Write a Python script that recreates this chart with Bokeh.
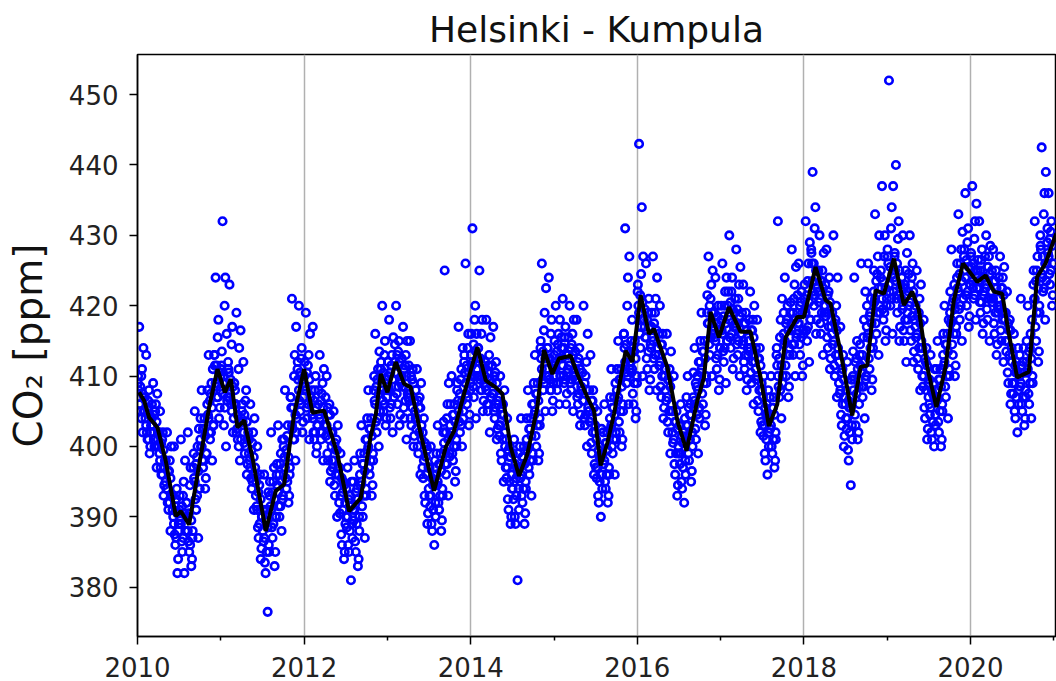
from bokeh.plotting import figure
from bokeh.models import FixedTicker, Range1d, PrintfTickFormatter
from bokeh.embed import file_html
from bokeh.resources import INLINE

# ---- data (approximate daily samples per month) ----
years = list(range(2010, 2021))

# spread of the daily values in each month (10 per month)
co2_2010 = [[409,408,417,406,405,410,411,402,414,407],[405,404,413,402,401,406.5,408,399,400,403],
            [404,403,409,401,400,405,406,397,407.5,402],[400,399,405,397,396,401,402,393,394.5,398],
            [395,394,402,392,391,396.5,398,388,400,393],[391,390,400,387.5,386,392.5,394,382,384,389],
            [391,389.5,401,386.5,385,393,395,382,398,388],[392,390,402,386.5,385,394.5,397,383,384,388],
            [397,395.5,405,392.5,391,398.5,400,387,402.5,394],[401,400,408,398,397,402.5,404,394,395.5,399],
            [406,404.5,413,402,401,407.5,409,398,411,403],[413,411.5,424,408.5,407,415.5,418,404,405.5,410]]
co2_2011 = [[411,413.5,432,409,403,420,424,400,416,407],[412,410.5,423,407.5,406,414.5,417,402,404,409],
            [408,406,419,402.5,401,411,414,398,416.5,404],[405,403.5,412,400.5,399,406.5,408,396,397.5,402],
            [399,398,406,395.5,394,400.5,402,391,404,397],[393,391.5,400,388.5,387,394.5,396,384,385.5,390],
            [388,386.5,396,383.5,382,389.5,391,376.5,393.5,385],[393,391.5,402,388.5,387,395,397,383,385,390],
            [396,394.5,403,391.5,390,397.5,399,388,401,393],[400,398.5,408,395.5,394,401.5,403,392,393,397],
            [407,405.5,421,402.5,401,410,413,398,417,404],[411,409.5,420,406.5,405,412.5,414,402,403.5,408]]
co2_2012 = [[410,408.5,419,405.5,404,411.5,413,401,416,407],[406,404.5,417,402,401,408,410,399,400,403],
            [406,404.5,413,402,401,407.5,409,398,411,403],[403,401.5,410,399,398,404.5,406,395,396.5,400],
            [398,397,405,394.5,393,399.5,401,390,403,396],[392,390.5,399,387.5,386,393.5,395,384,385,389],
            [390,388.5,397,386,385,391.5,393,381,395,387],[391,389.5,398,386.5,385,392.5,394,383,384,388],
            [396,394.5,403,391.5,390,397.5,399,387,401,393],[401,399.5,408,397,396,402.5,404,393,394.5,398],
            [408,406.5,416,403.5,402,409.5,411,400,413.5,405],[411,409.5,420,406.5,405,413,415,403,404,408]]
co2_2013 = [[410,408.5,418,405.5,404,411.5,413,402,415.5,407],[412,410.5,420,407.5,406,413.5,415,403,404.5,409],
            [410,408.5,417,405.5,404,411.5,413,401,415,407],[408,406.5,415,404,403,409.5,411,400,401.5,405],
            [404,402.5,411,400,399,405.5,407,396,409,401],[397,395.5,404,393,392,398.5,400,389,390.5,394],
            [393,391.5,400,389,388,394.5,396,386,398,390],[396,394.5,403,392,391,397.5,399,388,389.5,393],
            [402,400.5,425,397.5,396,404,406,393,409,399],[403,401.5,410,399,398,404.5,406,395,396.5,400],
            [408,406.5,417,403.5,402,409.5,411,400,414,405],[412,410.5,426,407.5,406,414,416,403,404.5,409]]
co2_2014 = [[413,411.5,431,408.5,407,418,420,404,416,410],[414,412.5,425,409.5,408,416,418,405,406.5,411],
            [410,408.5,418,406,405,411.5,413,402,415.5,407],[409,407.5,417,405,404,410.5,412,401,402.5,406],
            [403,401.5,410,399,398,404.5,406,395,408,400],[397,395.5,404,392.5,391,398.5,400,389,390,394],
            [394,392.5,401,390,389,395.5,397,381,399,391],[397,395.5,404,393,392,398.5,400,389,390.5,394],
            [401,399.5,408,397,396,402.5,404,393,406,398],[406,404.5,413,401.5,400,407.5,409,398,399,403],
            [414,412.5,426,409.5,408,416.5,419,405,422.5,411],[414,412.5,424,409.5,408,416,418,405,406.5,411]]
co2_2015 = [[413,411.5,420,409,408,414.5,416,406,418,410],[414,412.5,421,410,409,415.5,417,406,407.5,411],
            [413,411.5,420,409,408,414.5,416,405,418,410],[411,409.5,418,407,406,412.5,414,403,404.5,408],
            [408,406.5,420,404,403,410,412,400,416,405],[405,403.5,413,400.5,399,406.5,408,396,397.5,402],
            [397,395.5,405,393,392,398.5,400,390,402.5,394],[399,397.5,406,395,394,400.5,402,392,393,396],
            [404,402.5,411,400,399,405.5,407,396,409,401],[408,406.5,415,403.5,402,409.5,411,400,401,405],
            [416,414,431,410.5,409,420,424,406,427,412],[412,410.5,418,407.5,406,413.5,415,404,405,409]]
co2_2016 = [[422,420,443,416,414,424.5,434,410,427,418],[417,415.5,426,412.5,411,419,421,408,409.5,414],
            [417,415.5,427,412.5,411,419,421,408,424,414],[413,411.5,420,408.5,407,414.5,416,404,405.5,410],
            [408,406.5,416,403.5,402,409.5,411,399,413.5,405],[402,400.5,410,397.5,396,403.5,405,393,394.5,399],
            [399,397.5,406,395,394,400.5,402,392,404,396],[403,401.5,410,399,398,404.5,406,395,396.5,400],
            [407,405.5,414,402.5,401,408.5,410,399,412,404],[412,410.5,419,407.5,406,413.5,415,403,404.5,409],
            [419,417.5,427,414.5,413,421,423,410,425,416],[417,415.5,424,412.5,411,418.5,420,408,409.5,414]]
co2_2017 = [[418,416.5,426,413.5,412,420,422,409,424,415],[420,418.5,430,415.5,414,422,424,411,412.5,417],
            [419,417.5,428,414.5,413,421,423,410,425.5,416],[416,414.5,423,412,411,417.5,419,408,409.5,413],
            [415,413.5,422,410.5,409,416.5,418,406,420,412],[411,409.5,418,406.5,405,412.5,414,402,403.5,408],
            [403,401.5,410,399,398,404.5,406,396,408,400],[404,402.5,410,400,399,405.5,407,397,398,401],
            [413,411.5,432,408.5,407,415.5,418,404,421,410],[416,414.5,424,411.5,410,418,420,407,408.5,413],
            [419,417.5,428,414.5,413,421,423,410,425.5,416],[419,417.5,426,414.5,413,420.5,422,410,411.5,416]]
co2_2018 = [[421,419.5,432,416.5,415,423.5,426,412,429,418],[428,426,439,422,420,431,434,416,418,424],
            [422,420.5,430,417.5,416,423.5,425,413,427.5,419],[420,418.5,428,415.5,414,422,424,411,412.5,417],
            [416,414.5,430,411.5,410,418,420,407,424,413],[409,407.5,417,404.5,403,411,413,400,401.5,406],
            [404,402.5,412,399.5,398,405.5,407,394.5,409.5,401],[410,408,424,404.5,403,412.5,415,401,402,406],
            [413,411.5,426,408.5,407,415.5,418,404,422,410],[417,415.5,426,412.5,411,419,421,408,409.5,414],
            [422,420.5,433,417.5,416,424.5,427,413,430,419],[424,422.5,437,419.5,418,427,430,415,416.5,421]]
co2_2019 = [[428,426,452,422,420,431,434,416,437,424],[427,425,440,421,419,429.5,432,415,417,423],
            [421,419.5,430,416.5,415,423,425,412,427.5,418],[422,420,430,416.5,415,424,426,412,413.5,418],
            [417,415.5,425,412.5,411,419,421,408,423,414],[410,408.5,418,405.5,404,412,414,401,402.5,407],
            [406,404.5,413,402,401,407.5,409,400,411,403],[408,406.5,415,403.5,402,409.5,411,400,401,405],
            [413,411.5,420,408.5,407,414.5,416,404,418,410],[419,417.5,428,414.5,413,421,423,410,411.5,416],
            [424,422.5,433,419.5,418,426,428,415,430.5,421],[427,425,436,421.5,420,429,431,417,418.5,423]]
co2_2020 = [[427,425.5,437,422.5,421,429.5,432,418,434.5,424],[425,423.5,432,420.5,419,426.5,428,416,417.5,422],
            [424,422.5,430,419.5,418,425.5,427,415,428.5,421],[422,420.5,428,417.5,416,423.5,425,413,414.5,419],
            [421,419.5,427,416.5,415,422.5,424,412,425.5,418],[415,413.5,422,410.5,409,416.5,418,406,407.5,412],
            [409,407.5,416,405,404,410.5,412,402,414,406],[410,408.5,421,406,405,412,414,403,404,407],
            [412,410.5,420,407.5,406,414,416,404,418,409],[423,421,432,417,415,425,427,412,413.5,419],
            [430,428,442.5,424,422,433,436,418,439,426],[429,427.5,436,424.5,423,430.5,432,420,421.5,426]]

# dense core of the daily values near the running mean (6 per month)
core_2010 = [[410,406,408.5,404,407.5,405],[407,403,405.5,401,404.5,402],[406,402,404.5,400,403.5,401],
             [402,398,400.5,396,399.5,397],[398,394,396.5,392,395.5,393],[393,389,391.5,387,390.5,388],
             [393,389,391.5,387,390.5,388],[392,388,390.5,386,389.5,387],[399,395,397.5,393,396.5,394],
             [404,400,402.5,398,401.5,399],[408,404,406.5,402,405.5,403],[413,409,411.5,407,410.5,408]]
core_2011 = [[411.5,407.5,410,405.5,409,406.5],[411,407,409.5,405,408.5,406],[406,402,404.5,400,403.5,401],
             [406,402,404.5,400,403.5,401],[401,397,399.5,395,398.5,396],[395,391,393.5,389,392.5,390],
             [391,387,389.5,385,388.5,386],[395,391,393.5,389,392.5,390],[397.5,393.5,396,391.5,395,392.5],
             [401,397,399.5,395,398.5,396],[407,403,405.5,401,404.5,402],[412,408,410.5,406,409.5,407]]
core_2012 = [[412,408,410.5,406,409.5,407],[408,404,406.5,402,405.5,403],[408,404,406.5,402,405.5,403],
             [407,403,405.5,401,404.5,402],[402,398,400.5,396,399.5,397],[397,393,395.5,391,394.5,392],
             [394,390,392.5,388,391.5,389],[395,391,393.5,389,392.5,390],[399,395,397.5,393,396.5,394],
             [404,400,402.5,398,401.5,399],[410,406,408.5,404,407.5,405],[412,408,410.5,406,409.5,407]]
core_2013 = [[412,408,410.5,406,409.5,407],[414.5,410.5,413,408.5,412,409.5],[412.5,408.5,411,406.5,410,407.5],
             [411.5,407.5,410,405.5,409,406.5],[408,404,406.5,402,405.5,403],[402,398,400.5,396,399.5,397],
             [397,393,395.5,391,394.5,392],[399,395,397.5,393,396.5,394],[403.5,399.5,402,397.5,401,398.5],
             [406,402,404.5,400,403.5,401],[409,405,407.5,403,406.5,404],[413,409,411.5,407,410.5,408]]
core_2014 = [[416,412,414.5,410,413.5,411],[414,410,412.5,408,411.5,409],[412,408,410.5,406,409.5,407],
             [411.5,407.5,410,405.5,409,406.5],[407,403,405.5,401,404.5,402],[401,397,399.5,395,398.5,396],
             [399,395,397.5,393,396.5,394],[400,396,398.5,394,397.5,395],[404,400,402.5,398,401.5,399],
             [409,405,407.5,403,406.5,404],[415,411,413.5,409,412.5,410],[414,410,412.5,408,411.5,409]]
core_2015 = [[415,411,413.5,409,412.5,410],[415.5,411.5,414,409.5,413,410.5],[415.5,411.5,414,409.5,413,410.5],
             [413.5,409.5,412,407.5,411,408.5],[410.5,406.5,409,404.5,408,405.5],[408,404,406.5,402,405.5,403],
             [401,397,399.5,395,398.5,396],[402,398,400.5,396,399.5,397],[407,403,405.5,401,404.5,402],
             [411,407,409.5,405,408.5,406],[416,412,414.5,410,413.5,411],[415,411,413.5,409,412.5,410]]
core_2016 = [[423,419,421.5,417,420.5,418],[419.5,415.5,418,413.5,417,414.5],[419,415,417.5,413,416.5,414],
             [416,412,414.5,410,413.5,411],[411,407,409.5,405,408.5,406],[405,401,403.5,399,402.5,400],
             [403,399,401.5,397,400.5,398],[407,403,405.5,401,404.5,402],[410.5,406.5,409,404.5,408,405.5],
             [415,411,413.5,409,412.5,410],[421.5,417.5,420,415.5,419,416.5],[419,415,417.5,413,416.5,414]]
core_2017 = [[420,416,418.5,414,417.5,415],[422,418,420.5,416,419.5,417],[421,417,419.5,415,418.5,416],
             [419,415,417.5,413,416.5,414],[418,414,416.5,412,415.5,413],[414,410,412.5,408,411.5,409],
             [407,403,405.5,401,404.5,402],[407,403,405.5,401,404.5,402],[414,410,412.5,408,411.5,409],
             [419,415,417.5,413,416.5,414],[420.5,416.5,419,414.5,418,415.5],[421.5,417.5,420,415.5,419,416.5]]
core_2018 = [[423,419,421.5,417,420.5,418],[427.5,423.5,426,421.5,425,422.5],[425,421,423.5,419,422.5,420],
             [423,419,421.5,417,420.5,418],[419,415,417.5,413,416.5,414],[412,408,410.5,406,409.5,407],
             [408,404,406.5,402,405.5,403],[413.5,409.5,412,407.5,411,408.5],[414.5,410.5,413,408.5,412,409.5],
             [420,416,418.5,414,417.5,415],[425,421,423.5,419,422.5,420],[425,421,423.5,419,422.5,420]]
core_2019 = [[427,423,425.5,421,424.5,422],[427.5,423.5,426,421.5,425,422.5],[424,420,422.5,418,421.5,419],
             [424.5,420.5,423,418.5,422,419.5],[420,416,418.5,414,417.5,415],[414,410,412.5,408,411.5,409],
             [409.5,405.5,408,403.5,407,404.5],[411,407,409.5,405,408.5,406],[416,412,414.5,410,413.5,411],
             [422,418,420.5,416,419.5,417],[426,422,424.5,420,423.5,421],[428,424,426.5,422,425.5,423]]
core_2020 = [[427.5,423.5,426,421.5,425,422.5],[426.5,422.5,425,420.5,424,421.5],[427,423,425.5,421,424.5,422],
             [425,421,423.5,419,422.5,420],[424,420,422.5,418,421.5,419],[419,415,417.5,413,416.5,414],
             [413,409,411.5,407,410.5,408],[413,409,411.5,407,410.5,408],[415,411,413.5,409,412.5,410],
             [425,421,423.5,419,422.5,420],[428.5,424.5,427,422.5,426,423.5],[431,427,429.5,425,428.5,426]]

# running mean (black curve)
smooth_year = [2010.02, 2010.08, 2010.14, 2010.24, 2010.34, 2010.46, 2010.52, 2010.62, 2010.72, 2010.86,
               2010.96, 2011.05, 2011.12, 2011.20, 2011.28, 2011.38, 2011.54, 2011.66, 2011.76, 2011.88,
               2012.00, 2012.10, 2012.24, 2012.40, 2012.54, 2012.68, 2012.80, 2012.86, 2012.92, 2013.00,
               2013.10, 2013.20, 2013.28, 2013.40, 2013.56, 2013.70, 2013.80, 2013.92, 2014.08, 2014.18,
               2014.30, 2014.38, 2014.48, 2014.58, 2014.68, 2014.80, 2014.88, 2014.98, 2015.06, 2015.20,
               2015.28, 2015.40, 2015.48, 2015.56, 2015.64, 2015.72, 2015.86, 2015.94, 2016.04, 2016.14,
               2016.20, 2016.36, 2016.48, 2016.59, 2016.72, 2016.80, 2016.88, 2016.98, 2017.10, 2017.24,
               2017.36, 2017.48, 2017.58, 2017.68, 2017.78, 2017.92, 2018.00, 2018.14, 2018.26, 2018.32,
               2018.44, 2018.58, 2018.68, 2018.76, 2018.86, 2018.96, 2019.08, 2019.20, 2019.30, 2019.38,
               2019.48, 2019.59, 2019.70, 2019.80, 2019.91, 2020.08, 2020.18, 2020.28, 2020.38, 2020.46,
               2020.56, 2020.70, 2020.80, 2020.90, 2021.03]
smooth_co2 = [407.7, 406.5, 404.1, 402.7, 397.9, 390.1, 390.8, 388.9, 396.0, 405.6,
              411.0, 407.7, 409.6, 402.7, 403.7, 398.4, 388.0, 393.7, 394.6, 404.6,
              411.0, 404.8, 405.1, 398.9, 390.8, 392.7, 401.5, 404.5, 410.3, 407.7,
              412.0, 408.9, 408.4, 401.8, 393.7, 399.9, 402.2, 407.5, 414.1, 409.4,
              408.4, 407.5, 399.9, 395.8, 398.9, 405.6, 413.7, 410.3, 412.5, 412.9,
              410.3, 407.0, 405.1, 397.3, 400.5, 404.6, 413.6, 412.0, 421.5, 416.0,
              416.7, 411.3, 403.7, 399.4, 406.5, 409.8, 419.1, 415.5, 419.8, 416.3,
              416.3, 409.8, 402.9, 406.0, 415.5, 418.4, 418.4, 425.5, 420.8, 420.3,
              413.4, 404.4, 411.3, 411.5, 422.2, 421.7, 426.7, 420.1, 422.0, 419.4,
              411.3, 405.6, 411.3, 420.8, 426.0, 423.4, 424.3, 422.0, 421.7, 416.0,
              409.8, 410.6, 424.1, 426.0, 430.3]

x_major = [2010, 2012, 2014, 2016, 2018, 2020]
x_minor = [2011, 2013, 2015, 2017, 2019, 2021]
y_ticks = [380, 390, 400, 410, 420, 430, 440, 450]

spread_sets = [co2_2010, co2_2011, co2_2012, co2_2013, co2_2014, co2_2015,
               co2_2016, co2_2017, co2_2018, co2_2019, co2_2020]
core_sets = [core_2010, core_2011, core_2012, core_2013, core_2014, core_2015,
             core_2016, core_2017, core_2018, core_2019, core_2020]

xs, ys = [], []
for sets in (spread_sets, core_sets):
    for yr, months in zip(years, sets):
        for m, vals in enumerate(months):
            k = len(vals)
            for i, v in enumerate(vals):
                xs.append(yr + (m + (i + 0.5) / k) / 12.0)
                ys.append(v)

FONT = "DejaVu Sans"

p = figure(width=1056, height=681, output_backend="svg", toolbar_location=None,
           x_range=Range1d(2010, 2021.02), y_range=Range1d(373.0, 455.7),
           min_border_left=137, min_border_right=1, min_border_top=54, min_border_bottom=45,
           title="Helsinki - Kumpula")

p.background_fill_color = "white"
p.border_fill_color = "white"
p.outline_line_color = "black"
p.outline_line_width = 1.5
p.outline_line_alpha = 1.0

p.title.text_font = FONT
p.title.text_font_size = "36px"
p.title.text_font_style = "normal"
p.title.text_color = "#111111"
p.title.align = "center"

p.xgrid.ticker = FixedTicker(ticks=x_major)
p.xgrid.grid_line_color = "#b0b0b0"
p.xgrid.grid_line_width = 1.5
p.ygrid.grid_line_color = None

xa = p.xaxis[0]
xa.ticker = FixedTicker(ticks=x_major, minor_ticks=x_minor)
xa.formatter = PrintfTickFormatter(format="%d")
ya = p.yaxis[0]
ya.ticker = FixedTicker(ticks=y_ticks)
ya.minor_tick_line_color = None
ya.axis_label = "CO\u2082 [ppm]"
ya.axis_label_text_font = FONT
ya.axis_label_text_font_size = "39px"
ya.axis_label_text_font_style = "normal"
ya.axis_label_text_color = "#111111"
ya.axis_label_standoff = 15

for ax in (xa, ya):
    ax.axis_line_color = "black"
    ax.axis_line_width = 1.5
    ax.major_tick_line_color = "black"
    ax.major_tick_line_width = 1.5
    ax.major_tick_out = 8
    ax.major_tick_in = 0
    ax.minor_tick_out = 4
    ax.minor_tick_in = 0
    ax.minor_tick_line_width = 1.5
    ax.major_label_text_font = FONT
    ax.major_label_text_font_size = "26px"
    ax.major_label_text_color = "#222222"
xa.minor_tick_line_color = "black"
xa.major_label_standoff = 12
ya.major_label_standoff = 11

p.scatter(xs, ys, marker="circle", size=7.5, fill_color=None,
          line_color="#0000ff", line_width=2.6)
p.line(smooth_year, smooth_co2, line_color="black", line_width=4)

open("out.html", "w").write(file_html(p, INLINE))
